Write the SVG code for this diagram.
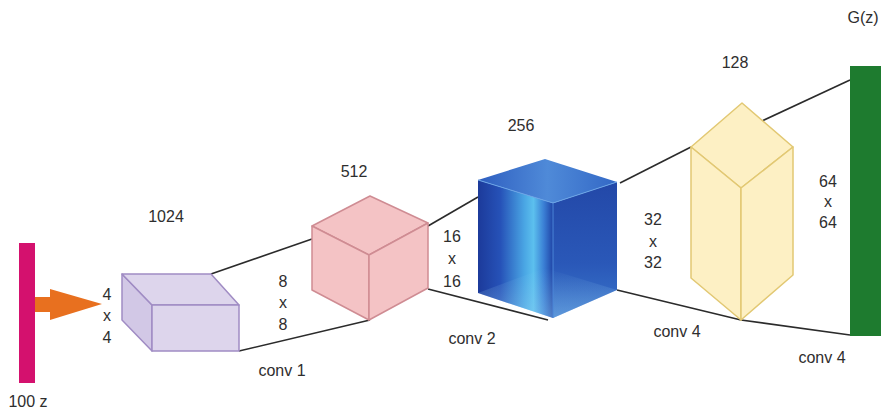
<svg xmlns="http://www.w3.org/2000/svg" width="887" height="413" viewBox="0 0 887 413">
  <style>
    .lbl { font-family: "Liberation Sans", Arial, sans-serif; font-size: 16px; fill: #2e2e2e; text-anchor: middle; }
    .edge { stroke: #2b2b2b; stroke-width: 1.6; fill: none; }
    .purple { fill: #ddd5ec; stroke: #a08cc4; stroke-width: 1.5; stroke-linejoin: round; }
    .purple-side { fill: #d2c8e6; stroke: #a08cc4; stroke-width: 1.5; stroke-linejoin: round; }
    .pink { fill: #f4c3c5; stroke: #cf8c93; stroke-width: 1.5; stroke-linejoin: round; }
    .yellow { fill: #fdf0c4; stroke: #e2c873; stroke-width: 1.5; stroke-linejoin: round; }
  </style>
  <defs>
    <linearGradient id="blueFront" x1="478" y1="0" x2="553" y2="0" gradientUnits="userSpaceOnUse">
      <stop offset="0" stop-color="#1c3a9a"/>
      <stop offset="0.3" stop-color="#2652b8"/>
      <stop offset="0.62" stop-color="#4aa6e4"/>
      <stop offset="0.74" stop-color="#5cc0ee"/>
      <stop offset="0.88" stop-color="#3a7ed4"/>
      <stop offset="1" stop-color="#2044a6"/>
    </linearGradient>
    <linearGradient id="blueRight" x1="0" y1="182" x2="0" y2="318" gradientUnits="userSpaceOnUse">
      <stop offset="0" stop-color="#2348a8"/>
      <stop offset="0.6" stop-color="#2a58b8"/>
      <stop offset="1" stop-color="#3a76cc"/>
    </linearGradient>
    <linearGradient id="blueTop" x1="478" y1="180" x2="617" y2="182" gradientUnits="userSpaceOnUse">
      <stop offset="0" stop-color="#2e5ec0"/>
      <stop offset="0.5" stop-color="#4f8ad8"/>
      <stop offset="1" stop-color="#3368c6"/>
    </linearGradient>
    <linearGradient id="blueFloor" x1="0" y1="268" x2="0" y2="318" gradientUnits="userSpaceOnUse">
      <stop offset="0" stop-color="#9fd8f6" stop-opacity="0"/>
      <stop offset="1" stop-color="#9fd8f6" stop-opacity="0.35"/>
    </linearGradient>
  </defs>

  <!-- connectors between layers -->
  <g id="connectors">
    <line class="edge" x1="211" y1="274" x2="312" y2="239"/>
    <line class="edge" x1="239" y1="351" x2="370" y2="320"/>
    <line class="edge" x1="428" y1="226" x2="478" y2="197"/>
    <line class="edge" x1="428" y1="289" x2="548" y2="320"/>
    <line class="edge" x1="620" y1="183" x2="691" y2="147"/>
    <line class="edge" x1="617" y1="290" x2="741" y2="320"/>
    <line class="edge" x1="762" y1="121" x2="850" y2="80"/>
    <line class="edge" x1="741" y1="320" x2="850" y2="335"/>
    <!-- input arrow -->
    <polygon points="35,297 50,297 50,289 102,304 50,320 50,312 35,312" fill="#e8701f"/>
  </g>

  <g id="input-z">
    <rect x="19" y="243" width="16" height="140" fill="#d4116e"/>
    <text class="lbl" x="28" y="407">100 z</text>
  </g>

  <g id="layer-1024">
    <polygon class="purple-side" points="122,274 152,305 152,351 122,320"/>
    <polygon class="purple" points="122,274 211,274 239,305 152,305"/>
    <rect class="purple" x="152" y="305" width="87" height="46"/>
    <text class="lbl" x="166" y="222">1024</text>
    <text class="lbl" x="107" y="300">4</text>
    <text class="lbl" x="107" y="321">x</text>
    <text class="lbl" x="107" y="343">4</text>
  </g>

  <g id="layer-512">
    <polygon class="pink" points="370,196 428,223 369,255 312,226"/>
    <polygon class="pink" points="312,226 369,255 369,320 312,290"/>
    <polygon class="pink" points="369,255 428,223 428,288 369,320"/>
    <text class="lbl" x="354" y="177">512</text>
    <text class="lbl" x="283" y="287">8</text>
    <text class="lbl" x="283" y="308">x</text>
    <text class="lbl" x="283" y="330">8</text>
    <text class="lbl" x="282" y="376">conv 1</text>
  </g>

  <g id="layer-256">
    <polygon points="478,180 553,203 553,318 478,293" fill="url(#blueFront)"/>
    <polygon points="553,203 617,182 617,290 553,318" fill="url(#blueRight)"/>
    <polygon points="478,180 545,159 617,182 553,203" fill="url(#blueTop)"/>
    <polygon points="478,293 545,268 617,290 553,318" fill="url(#blueFloor)"/>
    <polyline points="478,180 553,203 617,182" fill="none" stroke="#6aa4e6" stroke-width="1"/>
    <line x1="553" y1="203" x2="553" y2="318" stroke="#4a86d8" stroke-width="1"/>
    <text class="lbl" x="521" y="131">256</text>
    <text class="lbl" x="452" y="242">16</text>
    <text class="lbl" x="452" y="264">x</text>
    <text class="lbl" x="452" y="287">16</text>
    <text class="lbl" x="472" y="344">conv 2</text>
  </g>

  <g id="layer-128">
    <polygon class="yellow" points="742,103 793,147 741,188 691,147"/>
    <polygon class="yellow" points="691,147 741,188 741,320 691,278"/>
    <polygon class="yellow" points="741,188 793,147 793,275 741,320"/>
    <text class="lbl" x="735" y="68">128</text>
    <text class="lbl" x="653" y="225">32</text>
    <text class="lbl" x="653" y="247">x</text>
    <text class="lbl" x="653" y="268">32</text>
    <text class="lbl" x="677" y="337">conv 4</text>
  </g>

  <g id="output-gz">
    <rect x="850" y="66" width="31" height="270" fill="#1e7b2f"/>
    <text class="lbl" x="863" y="23">G(z)</text>
    <text class="lbl" x="828" y="187">64</text>
    <text class="lbl" x="828" y="207">x</text>
    <text class="lbl" x="828" y="228">64</text>
    <text class="lbl" x="822" y="363">conv 4</text>
  </g>
</svg>
